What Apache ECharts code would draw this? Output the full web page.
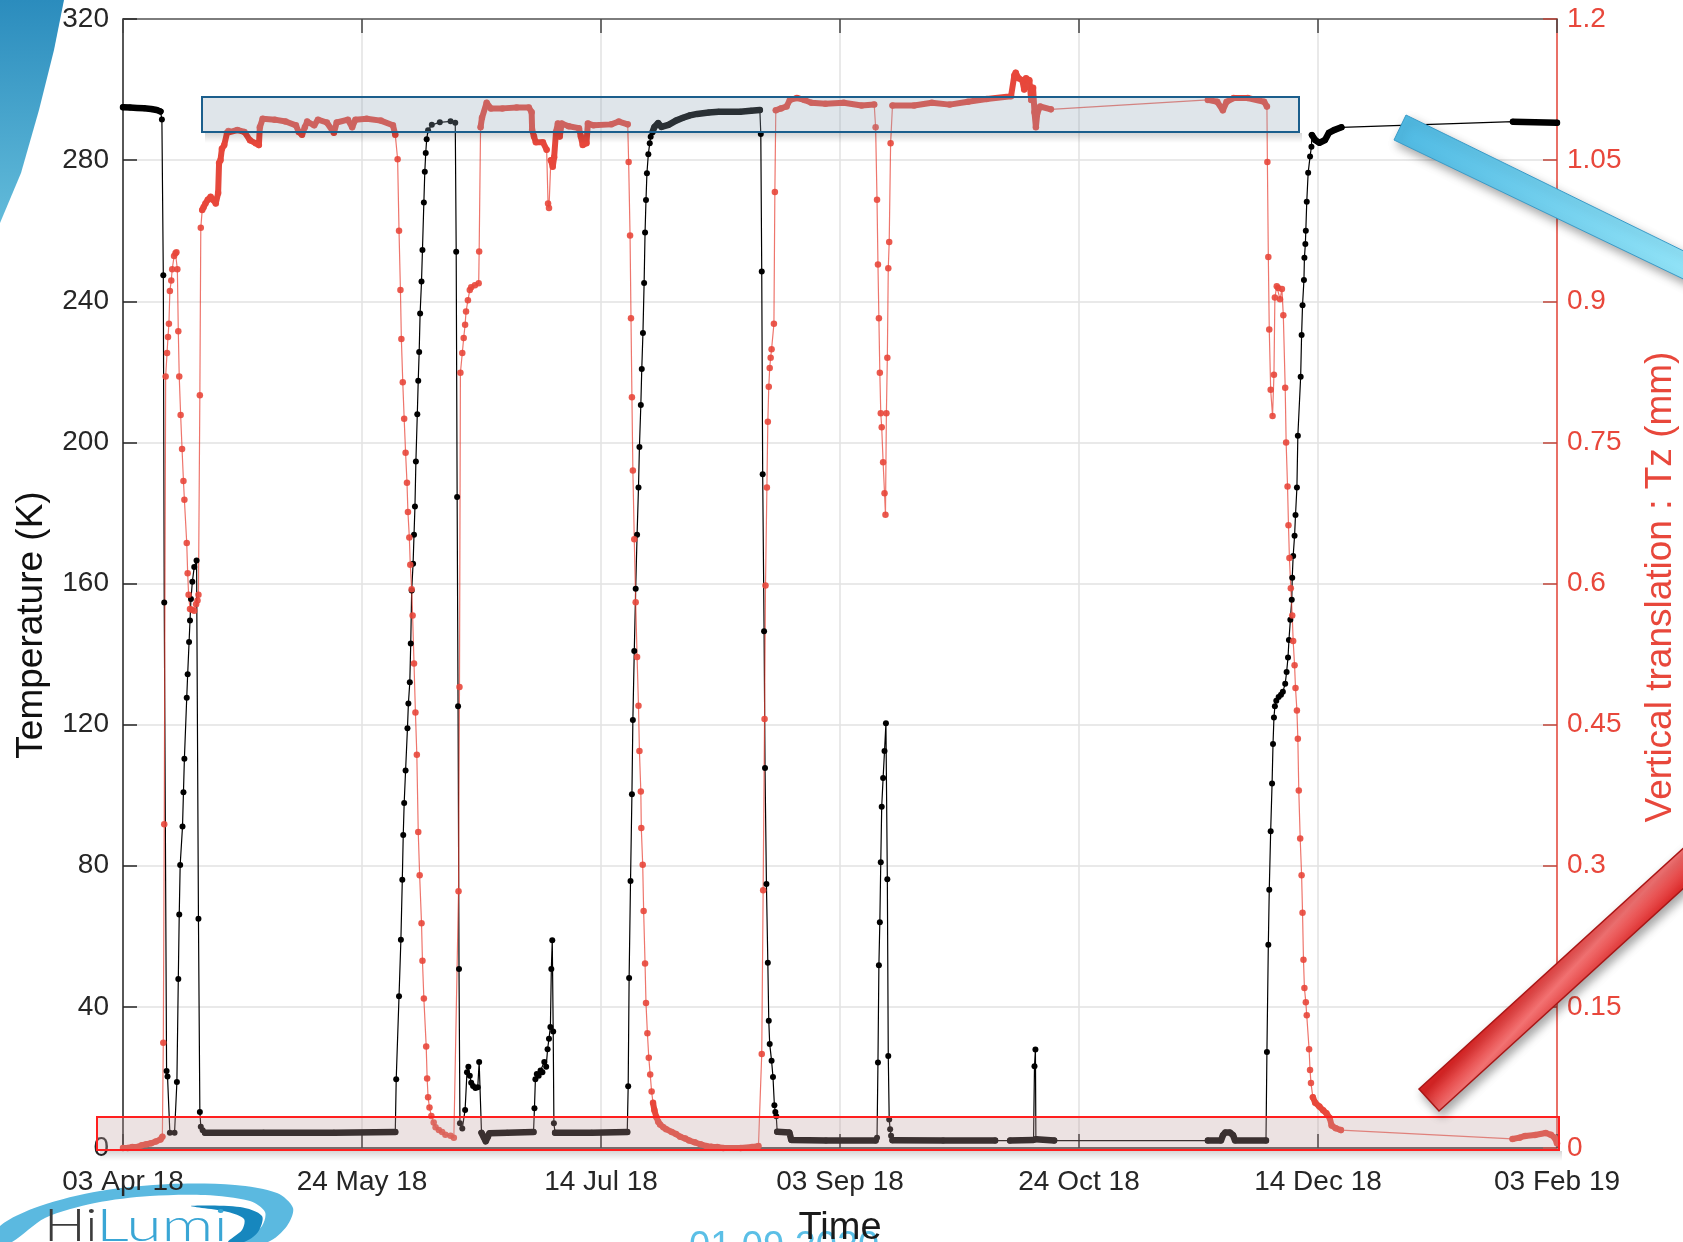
<!DOCTYPE html>
<html>
<head>
<meta charset="utf-8">
<title>Temperature and vertical translation</title>
<script src="https://cdn.jsdelivr.net/npm/echarts/dist/echarts.min.js"></script>
<style>
  html, body { margin: 0; padding: 0; background: #fff; }
  #chart { width: 1683px; height: 1242px; }
</style>
</head>
<body>
<div id="chart"></div>
<script>
// x values are days since 03 Apr 18, one axis tick every 51 days
const dateLabels = ["03 Apr 18", "24 May 18", "14 Jul 18", "03 Sep 18", "24 Oct 18", "14 Dec 18", "03 Feb 19"];
const tempTicks = [0, 320, 40];   // min, max, step (K)
const tzTicks = [0, 1.2, 0.15];   // min, max, step (mm)

// temperature (K), [day, value]
const tempPoints = [
  [0,295.0],[1.5,294.9],[3,294.8],[4.5,294.7],[6,294.5],[7.2,294.2],[8.0,293.8],
  [8.3,291.5],[8.6,247.4],[8.8,154.6],[9.3,21.8],[9.5,20.3],[10.0,4.3],[11.0,4.3],[11.5,18.7],[11.8,47.9],
  [12.0,66.2],[12.2,80.2],[12.7,91.1],[12.9,100.8],[13.1,110.3],[13.6,127.6],[13.8,134.3],[14.1,143.4],
  [14.3,149.5],[14.5,155.6],[14.8,160.5],[15.2,164.7],[15.7,166.5],[16.1,65],[16.4,10.2],[16.6,6.0],[17.0,5.0],
  [17.5,4.3],[30,4.3],[45,4.3],[58.1,4.5],
  [58.3,19.5],[58.9,43],[59.3,59],[59.6,76],[59.8,88.7],[60.0,97.8],[60.3,107],[60.7,119],[60.9,126],[61.2,132],
  [61.4,143],[61.6,158],[61.9,165.6],[62.1,173.8],[62.3,181.8],[62.5,194.6],[62.8,208],[63.0,217.5],[63.2,225.6],
  [63.4,236.5],[63.7,245.6],[63.9,254.5],[64.2,268],[64.4,276.7],[64.6,282],[64.8,285.9],[65.1,288.5],[65.9,290],
  [67.6,290.7],[69.9,291],[70.9,290.6],
  [71.1,254],[71.3,184.5],[71.5,125.2],[71.7,50.7],[71.9,7.0],[72.4,5.5],[73.0,10.8],[73.4,21.5],[73.7,23.0],
  [74.0,20.5],[74.3,18.5],[74.7,17.6],[75.2,17.0],[75.7,17.2],[76.0,24.4],
  [76.5,4.3],[77.0,3.0],[77.4,1.9],[77.8,3.0],[78.2,4.2],[82,4.3],[87.6,4.5],
  [87.8,11.3],[88.0,19.5],[88.3,21.0],[88.7,20.5],[89.1,22.0],[89.5,21.5],[89.9,24.4],[90.3,23.0],[90.6,28.0],
  [90.9,31.0],[91.2,34.3],[91.4,50.7],[91.6,58.9],[91.8,33],[91.95,7.0],[92.2,4.3],[100,4.3],[107.6,4.5],
  [107.8,17.5],[108.0,48.2],[108.3,75.7],[108.6,100.3],[108.8,121.3],[109.1,140.9],[109.4,158.5],[109.7,173.8],
  [110.0,187.2],[110.2,198.7],[110.5,210.6],[110.7,220.8],[110.95,231],[111.2,245.2],[111.4,259.5],[111.6,268.7],
  [111.8,276.3],[112.1,281.7],[112.4,284.8],[112.6,286.6],[113.0,288],[113.4,289.4],[114.2,290.5],[114.9,289.4],
  [116.4,290],[118,291.2],[119.5,292],[121,292.7],[122.5,293.1],[125,293.5],[127.1,293.7],[131.7,293.7],
  [134,294.0],[135.9,294.2],
  [136.1,287.4],[136.3,248.4],[136.5,191],[136.8,146.5],[137.0,107.7],[137.3,74.8],[137.6,52.5],[137.8,36.1],
  [138.0,29.5],[138.4,24.7],[138.7,20.1],[139.0,12.1],[139.2,10.2],[139.4,9.0],[139.6,4.6],[142.2,4.4],
  [142.6,2.3],[150,2.1],[160.6,2.1],
  [160.9,2.9],[161.1,24.2],[161.3,51.8],[161.5,64],[161.7,81],[161.9,96.7],[162.2,104.9],[162.5,112.5],
  [162.8,120.4],[163.1,76.2],[163.3,26.1],[163.5,8.1],[163.7,5.3],[163.9,3.5],[164.2,2.2],[175,2.1],[186.1,2.1],
  [189.3,2.1],[194.3,2.3],[194.5,23.2],[194.7,27.9],[194.8,2.5],[198.7,2.1],
  [231.5,2.1],[234.3,2.1],[234.7,3.6],[235.2,4.4],[236.2,4.4],[236.9,3.6],[237.3,2.1],[243.9,2.1],
  [244.1,27.2],[244.4,57.6],[244.6,73.2],[244.9,89.8],[245.2,103.3],[245.4,114.5],[245.6,122],[245.8,125.2],
  [246.1,126.8],[246.6,127.8],[247.1,128.5],[247.5,129.3],[248.0,131.6],[248.3,134.9],[248.6,139],[248.8,144],
  [249.1,149.7],[249.4,155.4],[249.5,161.6],[249.7,167.8],[250.0,173.5],[250.2,179.4],[250.5,187.2],[250.7,201.9],
  [251.3,218.6],[251.5,230.4],[251.7,238.9],[252.0,246],[252.1,252.3],[252.3,256.2],[252.4,260],[252.6,268.2],
  [252.9,276.4],[253.3,281],[253.6,283.8],[253.7,287.1],[254.4,285.7],[255.3,284.9],[256.5,285.7],[257.3,287.7],
  [258.4,288.5],[260.0,289.3],
  [296.6,290.9],[306,290.6]
];

// vertical translation Tz (mm), [day, value]
const tzPoints = [
  [0,0],[1,0],[2,0.001],[3,0.001],[4,0.003],[5,0.004],[6,0.005],[7,0.007],[8,0.009],[8.4,0.012],
  [8.6,0.112],[8.8,0.344],[9.1,0.82],[9.4,0.845],[9.6,0.862],[9.8,0.876],[10.0,0.911],[10.3,0.922],[10.5,0.934],
  [10.9,0.948],[11.2,0.951],[11.4,0.952],[11.6,0.934],[11.8,0.868],[12.0,0.82],[12.3,0.779],[12.6,0.743],
  [12.9,0.709],[13.1,0.689],[13.6,0.643],[13.8,0.611],[14.0,0.588],[14.3,0.573],[14.7,0.572],[15.2,0.571],
  [15.6,0.578],[15.9,0.582],[16.1,0.588],
  [16.4,0.80],[16.6,0.978],[16.9,0.997],[17.2,1.0],[17.6,1.004],[18.1,1.008],[18.7,1.011],[19.2,1.008],[19.8,1.004],
  [20.3,1.015],[20.5,1.047],[20.8,1.05],[21.1,1.062],[21.6,1.066],[22.2,1.079],[22.5,1.081],[24.4,1.082],[25.9,1.08],
  [27.1,1.071],[28.3,1.068],[29.0,1.066],[29.2,1.085],[29.8,1.094],[32.4,1.093],[34.7,1.091],[36.9,1.087],[37.5,1.08],
  [38.2,1.077],[38.8,1.085],[39.3,1.091],[40.8,1.087],[41.6,1.093],[43.5,1.09],[45.0,1.079],[45.6,1.09],[48.0,1.093],
  [48.9,1.085],[49.6,1.093],[52,1.094],[55,1.092],[57.6,1.087],[58.1,1.077],
  [58.6,1.051],[58.9,0.975],[59.2,0.912],[59.4,0.86],[59.7,0.814],[60.0,0.775],[60.3,0.739],[60.6,0.707],[60.8,0.676],
  [61.1,0.649],[61.3,0.62],[61.6,0.594],[61.8,0.566],[62.1,0.515],[62.4,0.463],[62.7,0.418],[63.0,0.336],[63.3,0.29],
  [63.7,0.239],[63.9,0.199],[64.2,0.159],[64.7,0.108],[64.9,0.074],[65.1,0.054],[65.4,0.043],[65.8,0.034],
  [66.3,0.027],[66.7,0.022],[67.4,0.019],[68.1,0.017],[68.8,0.014],[69.9,0.013],[70.6,0.011],
  [71.6,0.273],[71.8,0.49],[72.0,0.824],[72.4,0.845],[72.7,0.861],[73.0,0.875],[73.2,0.889],[73.6,0.901],[74.0,0.912],
  [74.3,0.915],[75.1,0.917],[75.9,0.919],[76.0,0.953],[76.3,1.085],[76.6,1.095],[77.6,1.111],[78.5,1.105],[81,1.105],
  [84,1.106],[86.6,1.106],[87.2,1.101],[87.3,1.082],[87.7,1.075],[88.1,1.069],[89.6,1.069],[90.4,1.061],
  [90.7,1.004],[90.9,0.999],[91.3,1.05],[91.7,1.043],[92.0,1.053],[92.4,1.08],[92.8,1.089],[93.2,1.075],[93.6,1.089],
  [95.1,1.086],[97.3,1.084],[97.7,1.075],[98.1,1.066],[98.9,1.068],[99.2,1.089],[100.4,1.087],[104.2,1.088],
  [105.8,1.091],[107.7,1.088],
  [107.9,1.048],[108.2,0.97],[108.4,0.882],[108.6,0.798],[108.8,0.72],[109.1,0.647],[109.4,0.58],[109.7,0.522],
  [110.0,0.47],[110.2,0.422],[110.5,0.379],[110.6,0.34],[110.9,0.301],[111.1,0.252],[111.4,0.196],[111.6,0.154],
  [111.9,0.122],[112.2,0.096],[112.5,0.078],[112.8,0.06],[113.1,0.048],[113.4,0.04],[113.8,0.033],[114.2,0.028],
  [114.6,0.025],[115.3,0.022],[115.9,0.02],[117.1,0.017],[118.0,0.015],[118.9,0.012],[120.0,0.01],[120.8,0.008],
  [122.0,0.006],[123.2,0.004],[124.5,0.002],[125.6,0.0014],[126.8,0.001],[128.1,0],[131.8,0],[134.2,0.001],[135.6,0.002],
  [136.3,0.1],[136.6,0.274],[136.9,0.456],[137.1,0.598],[137.4,0.702],[137.6,0.772],[137.8,0.809],[138.0,0.829],
  [138.2,0.84],[138.4,0.849],[138.9,0.876],[139.1,1.016],[139.3,1.103],[140.4,1.105],[141.6,1.107],[142.3,1.114],
  [143.8,1.116],[145.4,1.114],[146.9,1.111],[149.9,1.11],[153.8,1.111],[157.6,1.108],[160.3,1.109],
  [160.6,1.085],[160.9,1.008],[161.1,0.939],[161.3,0.882],[161.5,0.824],[161.7,0.781],[161.9,0.766],[162.2,0.729],
  [162.5,0.696],[162.7,0.673],[162.9,0.781],[163.1,0.84],[163.3,0.935],[163.5,0.963],[163.8,1.068],[164.2,1.108],
  [168.8,1.108],[172.6,1.111],[176.4,1.109],[180.3,1.112],[184.3,1.115],[189.5,1.118],[190.2,1.14],[190.5,1.143],
  [191.1,1.137],[191.9,1.135],[192.3,1.125],[192.7,1.137],[193.4,1.135],[193.8,1.114],[194.2,1.127],[194.5,1.101],
  [194.8,1.085],[195.1,1.1],[195.7,1.107],[198,1.104],
  [231.5,1.114],[233.5,1.112],[234.7,1.103],[235.5,1.112],[237,1.116],[240,1.116],[243.5,1.112],[244.1,1.107],
  [244.2,1.048],[244.4,0.947],[244.6,0.87],[244.9,0.806],[245.3,0.778],[245.6,0.822],[245.8,0.904],[246.2,0.916],
  [246.5,0.914],[246.9,0.902],[247.3,0.913],[247.6,0.885],[248.0,0.808],[248.2,0.75],[248.5,0.703],[248.7,0.662],
  [248.9,0.627],[249.2,0.595],[249.5,0.566],[249.7,0.539],[250.0,0.513],[250.2,0.489],[250.5,0.465],[250.7,0.435],
  [250.9,0.38],[251.2,0.329],[251.5,0.29],[251.7,0.25],[251.9,0.2],[252.1,0.17],[252.4,0.155],[252.6,0.141],
  [253.1,0.105],[253.3,0.083],[253.5,0.069],[253.9,0.054],[254.4,0.048],[255.3,0.044],[256.1,0.04],[256.8,0.037],
  [257.5,0.032],[257.9,0.024],[258.8,0.021],[259.9,0.019],
  [296.5,0.0096],[298,0.011],[299.2,0.0128],[301.3,0.0138],[303.6,0.016],[304.7,0.014],[305.5,0.011],[306,0.005]
];

// day ranges where the logger sampled densely (drawn as a thick trace)
const tempDense = [[0,8.0],[17.5,58.1],[76.5,87.6],[92.2,107.6],[113.0,135.9],[139.6,160.6],[164.2,186.1],
  [189.3,194.3],[194.8,198.7],[231.5,243.9],[253.7,260.0],[296.6,306]];
const tzDense = [[0,8.4],[16.9,58.1],[76.3,90.4],[91.3,107.7],[113.1,135.6],[139.3,160.3],[164.2,198],
  [231.5,244.1],[253.9,259.9],[296.5,306]];

function bandData(points, ranges) {
  var out = [];
  ranges.forEach(function (r, i) {
    if (i > 0) out.push(null);
    points.forEach(function (p) {
      if (p[0] >= r[0] && p[0] <= r[1]) out.push(p);
    });
  });
  return out;
}

const FONT = "Liberation Sans, Arial, sans-serif";
const RED = "#E8473B";
const INK = "#262626";

// soft drop shadow strip under a highlight box
function shadowStrip(x, y, w) {
  return {
    type: "rect", z: 49,
    shape: { x: x, y: y, width: w, height: 10 },
    style: { fill: { type: "linear", x: 0, y: 0, x2: 0, y2: 1,
      colorStops: [{ offset: 0, color: "rgba(0,0,0,0.16)" }, { offset: 1, color: "rgba(0,0,0,0)" }] } }
  };
}

var chart = echarts.init(document.getElementById("chart"));

chart.setOption({
  animation: false,
  backgroundColor: "#fff",
  grid: { left: 123, right: 126, top: 19, bottom: 94, containLabel: false, outerBoundsMode: "none" },
  xAxis: [
    {
      type: "value",
      position: "bottom",
      min: 0,
      max: 306,
      interval: 51,
      name: "Time",
      nameLocation: "middle",
      nameGap: 62,
      nameTextStyle: { fontSize: 38, color: "#1a1a1a", fontFamily: FONT },
      axisLine: { onZero: false, lineStyle: { color: INK, width: 1.5 } },
      axisTick: { inside: true, length: 14, lineStyle: { color: INK, width: 1.5 } },
      axisLabel: {
        fontSize: 28,
        color: INK,
        fontFamily: FONT,
        margin: 20,
        formatter: function (v) { return dateLabels[Math.round(v / 51)]; }
      },
      splitLine: { show: true, lineStyle: { color: "#e2e2e2", width: 1.5 } }
    },
    {
      type: "value",
      position: "top",
      min: 0,
      max: 306,
      interval: 51,
      axisLine: { show: true, onZero: false, lineStyle: { color: "#5a5a5a", width: 1.5 } },
      axisTick: { inside: true, length: 14, lineStyle: { color: "#444", width: 1.5 } },
      axisLabel: { show: false },
      splitLine: { show: false }
    }
  ],
  yAxis: [
    {
      type: "value",
      position: "left",
      min: tempTicks[0],
      max: tempTicks[1],
      interval: tempTicks[2],
      axisLine: { show: true, onZero: false, lineStyle: { color: INK, width: 1.5 } },
      axisTick: { show: true, inside: true, length: 14, lineStyle: { color: INK, width: 1.5 } },
      axisLabel: { fontSize: 28, color: INK, fontFamily: FONT, margin: 14 },
      splitLine: { show: true, lineStyle: { color: "#e2e2e2", width: 1.5 } }
    },
    {
      type: "value",
      position: "right",
      min: tzTicks[0],
      max: tzTicks[1],
      interval: tzTicks[2],
      axisLine: { show: true, onZero: false, lineStyle: { color: RED, width: 1.5 } },
      axisTick: { show: true, inside: true, length: 14, lineStyle: { color: "#C0453A", width: 1.5 } },
      axisLabel: {
        fontSize: 28,
        color: RED,
        fontFamily: FONT,
        margin: 10,
        formatter: function (v) { return String(Math.round(v * 100) / 100); }
      },
      splitLine: { show: false }
    }
  ],
  series: [
    {
      name: "Temperature dense",
      type: "line",
      yAxisIndex: 0,
      data: bandData(tempPoints, tempDense),
      showSymbol: false,
      connectNulls: false,
      silent: true,
      lineStyle: { color: "#000", width: 6.5, cap: "round", join: "round" }
    },
    {
      name: "Temperature",
      type: "line",
      yAxisIndex: 0,
      data: tempPoints,
      symbol: "circle",
      symbolSize: 6,
      showAllSymbol: true,
      silent: true,
      itemStyle: { color: "#000" },
      lineStyle: { color: "#000", width: 1.2 }
    },
    {
      name: "Tz dense",
      type: "line",
      yAxisIndex: 1,
      data: bandData(tzPoints, tzDense),
      showSymbol: false,
      connectNulls: false,
      silent: true,
      lineStyle: { color: "#E5493D", width: 6, cap: "round", join: "round" }
    },
    {
      name: "Tz",
      type: "line",
      yAxisIndex: 1,
      data: tzPoints,
      symbol: "circle",
      symbolSize: 6.5,
      showAllSymbol: true,
      silent: true,
      itemStyle: { color: RED, opacity: 0.9 },
      lineStyle: { color: "rgba(232,71,59,0.75)", width: 1.2 }
    }
  ],
  graphic: [
    // slide decoration, top left
    {
      type: "polygon", z: 1,
      shape: { points: [[0, 0], [64, 0], [54, 50], [39, 110], [21, 173], [0, 223]] },
      style: { fill: { type: "linear", x: 0, y: 0, x2: 0, y2: 1,
        colorStops: [{ offset: 0, color: "#2B8CBD" }, { offset: 1, color: "#62BBDA" }] } }
    },
    // axis titles
    {
      type: "text", z: 5, x: 32, y: 625, rotation: Math.PI / 2,
      style: { text: "Temperature (K)", fontSize: 37, fontFamily: FONT, fill: "#111",
        align: "center", verticalAlign: "middle" }
    },
    {
      type: "text", z: 5, x: 1661, y: 587, rotation: Math.PI / 2,
      style: { text: "Vertical translation : Tz (mm)", fontSize: 37, fontFamily: FONT, fill: RED,
        align: "center", verticalAlign: "middle" }
    },
    // highlight boxes drawn over the traces
    shadowStrip(205, 133, 1097),
    {
      type: "rect", z: 50,
      shape: { x: 202, y: 97, width: 1097, height: 35 },
      style: { fill: "rgba(145,165,183,0.29)", stroke: "#1B5E8C", lineWidth: 2 }
    },
    shadowStrip(100, 1151, 1462),
    {
      type: "rect", z: 50,
      shape: { x: 97, y: 1117, width: 1462, height: 33 },
      style: { fill: "rgba(193,160,160,0.3)", stroke: "#FF1F1F", lineWidth: 2 }
    },
    // pointer bars
    {
      type: "polygon", z: 60,
      shape: { points: [[1406, 115], [1700, 259], [1700, 287], [1394, 140]] },
      style: { fill: { type: "linear", x: 0, y: 0, x2: 1, y2: 1,
          colorStops: [{ offset: 0, color: "#4DB8E2" }, { offset: 1, color: "#95E5F8" }] },
        stroke: "#3A9BC8", lineWidth: 1,
        shadowBlur: 10, shadowOffsetX: 3, shadowOffsetY: 5, shadowColor: "rgba(0,0,0,0.35)" }
    },
    {
      type: "polygon", z: 60,
      shape: { points: [[1419, 1089], [1700, 833], [1720, 855], [1439, 1111]] },
      style: { fill: { type: "linear", x: 0, y: 0, x2: 1, y2: 1,
          colorStops: [{ offset: 0.44, color: "#D92525" }, { offset: 0.5, color: "#F27272" }, { offset: 0.56, color: "#DE2E2E" }] },
        stroke: "#A81616", lineWidth: 1.5,
        shadowBlur: 10, shadowOffsetX: 3, shadowOffsetY: 5, shadowColor: "rgba(0,0,0,0.35)" }
    },
    // HiLumi logo
    {
      type: "polygon", z: -1,
      shape: { smooth: 0.3, points: [[0, 1226], [40, 1206], [100, 1191], [170, 1184], [235, 1185], [277, 1193],
        [293, 1208], [287, 1226], [268, 1242], [244, 1242], [262, 1226], [265, 1212], [250, 1201], [205, 1195],
        [150, 1196], [95, 1203], [45, 1218], [12, 1242], [0, 1242]] },
      style: { fill: "#5BB9E0" }
    },
    {
      type: "polygon", z: -1,
      shape: { smooth: 0.3, points: [[190, 1206], [240, 1207], [262, 1216], [258, 1232], [244, 1242], [228, 1242],
        [242, 1230], [244, 1219], [228, 1212]] },
      style: { fill: "#1787BE" }
    },
    {
      type: "text", z: -1, x: 44, y: 1249, scaleX: 1.2,
      style: { text: "Hi", fontSize: 46, fontFamily: "Lato, " + FONT, fontWeight: 300, fill: "#3C3C3C",
        align: "left", verticalAlign: "bottom" }
    },
    {
      type: "text", z: -1, x: 96, y: 1249, scaleX: 1.4,
      style: { text: "Lumi", fontSize: 46, fontFamily: "Lato, " + FONT, fontWeight: 300, fill: "#3AA6D5",
        align: "left", verticalAlign: "bottom" }
    },
    // slide date, cut by the page edge
    {
      type: "text", z: -1, x: 689, y: 1229,
      style: { text: "01.09.2020", fontSize: 38, fontFamily: FONT, fill: "#5BBFE6",
        align: "left", verticalAlign: "top" }
    }
  ]
});
</script>
</body>
</html>
